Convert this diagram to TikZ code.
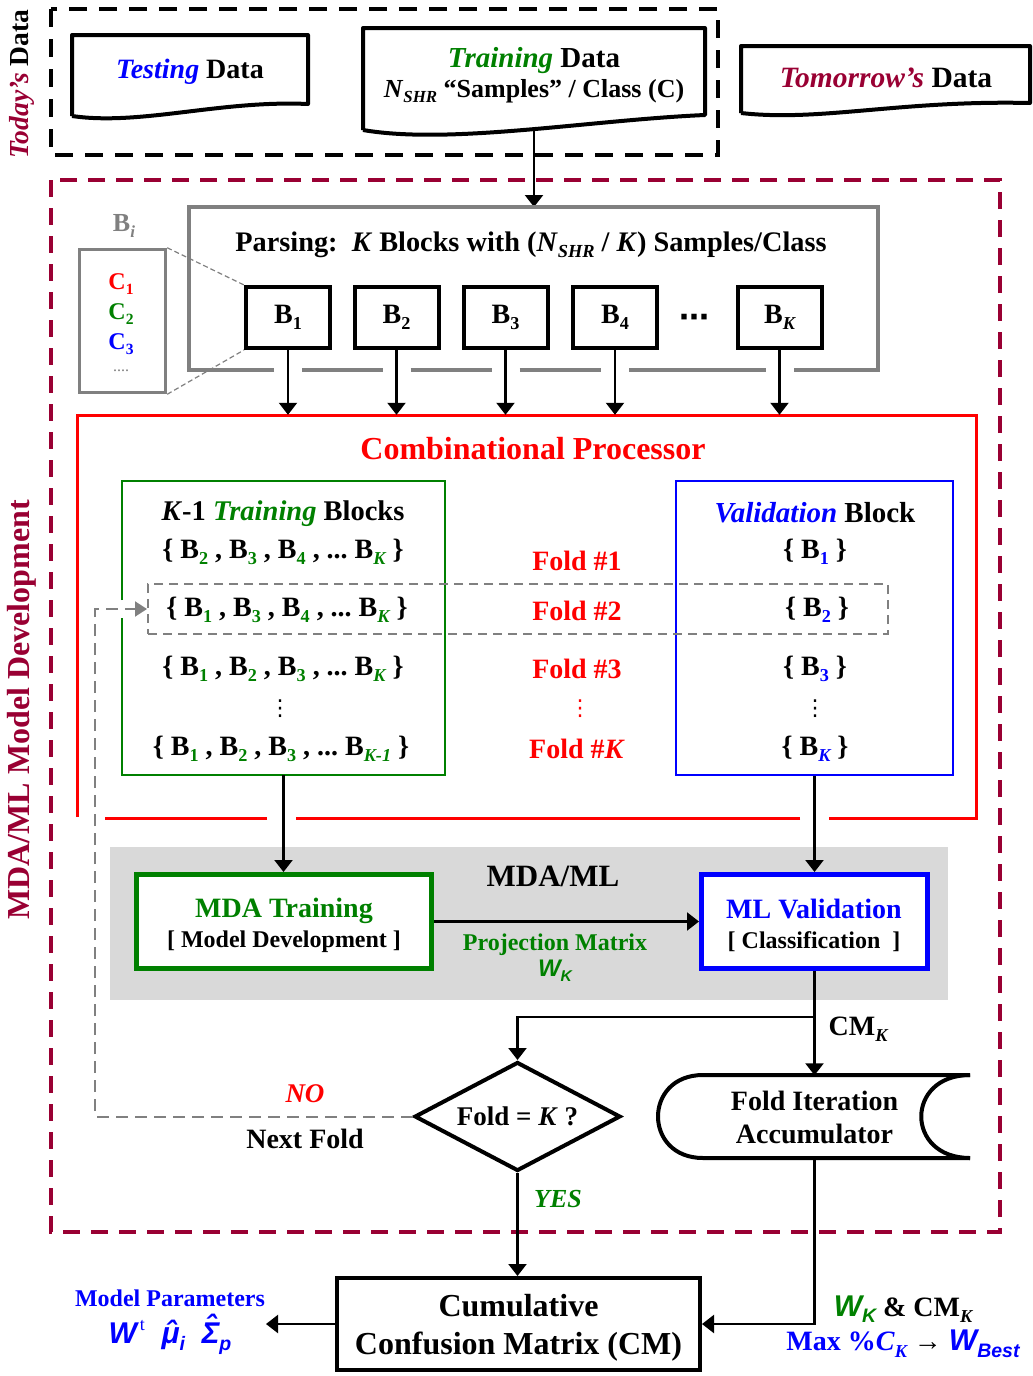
\documentclass[tikz,border=0pt]{standalone}
\usepackage{fontspec}
\usepackage{graphicx}
\setmainfont{Liberation Serif}
\newfontfamily\arialf{Liberation Sans}
\newfontfamily\djv{DejaVu Sans}
\usetikzlibrary{arrows.meta,shapes.geometric}
\definecolor{mroon}{HTML}{990033}
\definecolor{grn}{HTML}{008000}
\definecolor{blu}{HTML}{0000FF}
\definecolor{rdd}{HTML}{FF0000}
\definecolor{gry}{HTML}{808080}
\definecolor{bandc}{HTML}{D9D9D9}
\newcommand\fsz[1]{\fontsize{#1}{#1}\selectfont}
\newcommand\sbx[1]{\raisebox{-0.22em}{\scalebox{0.65}{#1}}}
\newcommand\gB[1]{B\sbx{\color{grn}#1}}
\newcommand\vB[1]{B\sbx{\color{blu}#1}}
\newcommand\hatted[2]{\setbox0\hbox{#1}\hbox{\rlap{\hbox to\wd0{\hss\raisebox{#2}{ˆ}\hss}}\box0}}
\tikzset{
  tx/.style={inner sep=0pt, align=center, font=\fsz{28}\bfseries},
  arr/.style={line width=2.2pt, -{Triangle[length=12pt,width=18pt]}},
  bblk/.style={draw, line width=4pt, minimum width=84pt, minimum height=61pt, inner sep=0pt, font=\fsz{28}\bfseries},
  vdt/.style={inner sep=0pt, font=\djv\fsz{22}},
  gline/.style={gry, line width=4pt},
  rline/.style={rdd, line width=3pt},
}
\begin{document}
\begin{tikzpicture}[x=1pt,y=-1pt]
\useasboundingbox (0,0) rectangle (1033,1376);
% gray band
\fill[bandc] (110,847) rectangle (948,1000);
% outer dashed boxes
\draw[line width=4pt, dash pattern=on 18pt off 12pt] (51,9) rectangle (718,155);
\draw[mroon, line width=3.5pt, dash pattern=on 17pt off 11pt] (51,180) rectangle (1000,1232);
\node[tx, rotate=90, font=\fsz{27.5}\bfseries] (today) at (22,84) {{\color{mroon}\itshape Today’s} Data};
\node[tx, rotate=90, font=\fsz{32}\bfseries, text=mroon] (mdev) at (22,710) {MDA/ML Model Development};
% document shapes
\draw[line width=4pt, line join=round] (72,116) -- (72,35) -- (308,35) -- (308,104) .. controls (220,100) and (140,126) .. (72,116);
\draw[line width=4pt, line join=round] (363,130) -- (363,28) -- (705,28) -- (705,115) .. controls (590,120) and (450,145) .. (363,130);
\draw[line width=4pt, line join=round] (741,113) -- (741,46) -- (1030,46) -- (1030,103) .. controls (900,100) and (820,122) .. (741,113);
\node[tx] (testd) at (190,72) {{\color{blu}\itshape Testing} Data};
\node[tx, font=\fsz{29}\bfseries] (traind) at (534,61) {{\color{grn}\itshape Training} Data};
\node[tx, font=\fsz{26}\bfseries] (trainn) at (534,91) {\textit{N}\sbx{\itshape SHR} “Samples” / Class (C)};
\node[tx, font=\fsz{29.5}\bfseries] (tomd) at (886,78) {{\color{mroon}\itshape Tomorrow’s} Data};
\coordinate (trbot) at (534,131);
\coordinate (ptop) at (534,207);
\draw[arr] (trbot) -- (ptop);
% parsing box
\draw[gline] (274,370) -- (189,370) -- (189,207) -- (878,207) -- (878,370) -- (793.5,370);
\draw[gline] (302,370) -- (382.5,370) (410.5,370) -- (491.5,370) (519.5,370) -- (601,370) (629,370) -- (765.5,370);
\node[tx, font=\fsz{28.3}\bfseries] (parse) at (531,245) {Parsing:\ \ \textit{K} Blocks with (\textit{N}\sbx{\itshape SHR} / \textit{K}) Samples/Class};
\node[bblk] (b1) at (288,317.5) {B\sbx{1}};
\node[bblk] (b2) at (396.5,317.5) {B\sbx{2}};
\node[bblk] (b3) at (505.5,317.5) {B\sbx{3}};
\node[bblk] (b4) at (615,317.5) {B\sbx{4}};
\node[bblk] (bk) at (779.5,317.5) {B\sbx{\itshape K}};
\node[inner sep=0pt, font=\djv\bfseries\fsz{30}] (dts) at (694,321) {⋯};
% Bi box
\node[draw=gry, line width=3.5pt, minimum width=86pt, minimum height=143pt, inner sep=0pt] (bi) at (122.5,321) {};
\node[tx, font=\fsz{26}\bfseries, text=gry] (bil) at (124,226) {B\sbx{\itshape i}};
\node[tx, font=\fsz{24}\bfseries, text=rdd] (c1) at (121,284) {C\sbx{1}};
\node[tx, font=\fsz{24}\bfseries, text=grn] (c2) at (121,314) {C\sbx{2}};
\node[tx, font=\fsz{24}\bfseries, text=blu] (c3) at (121,344) {C\sbx{3}};
\node[tx, font=\fsz{16}, text=gry] (c4) at (121,371) {....};
\draw[gry, line width=1.2pt, dash pattern=on 5pt off 3pt] (bi.north east) -- (b1.north west);
\draw[gry, line width=1.2pt, dash pattern=on 5pt off 3pt] (bi.south east) -- (b1.south west);
% combinational processor
\node[inner sep=0pt, minimum width=899pt, minimum height=403pt] (cp) at (526.5,616.5) {};
\draw[rline] (77,817) -- (77,415) -- (976,415) -- (976,818) -- (829,818);
\draw[rline] (800,818) -- (296,818) (267,818) -- (105,818);
\node[tx, font=\fsz{32}\bfseries, text=rdd] (cptitle) at (533,449) {Combinational Processor};
\foreach \b in {b1,b2,b3,b4,bk} \draw[arr] (\b.south) -- (\b.south |- cp.north);
% training blocks
\node[inner sep=0pt, minimum width=323pt, minimum height=294pt] (gbox) at (283.5,628) {};
\draw[grn, line width=2.5pt] (122,600) -- (122,481) -- (445,481) -- (445,775) -- (122,775) -- (122,618);
\node[tx, font=\fsz{28.5}\bfseries] (gt0) at (283,514) {\textit{K}-1 {\color{grn}\itshape Training} Blocks};
\node[tx] (gt1) at (283,552) {\{\ \gB{2}\ ,\ \gB{3}\ ,\ \gB{4}\ ,\ ...\ \gB{\itshape K}\ \}};
\node[tx] (gt2) at (287,610) {\{\ \gB{1}\ ,\ \gB{3}\ ,\ \gB{4}\ ,\ ...\ \gB{\itshape K}\ \}};
\node[tx] (gt3) at (283,669) {\{\ \gB{1}\ ,\ \gB{2}\ ,\ \gB{3}\ ,\ ...\ \gB{\itshape K}\ \}};
\node[vdt] (gt4) at (280,709) {⋮};
\node[tx] (gt5) at (281,749) {\{\ \gB{1}\ ,\ \gB{2}\ ,\ \gB{3}\ ,\ ...\ \gB{\itshape K-1}\ \}};
% folds
\node[tx, text=rdd] (fl1) at (577,561) {Fold \#1};
\node[tx, text=rdd] (fl2) at (577,611) {Fold \#2};
\node[tx, text=rdd] (fl3) at (577,669) {Fold \#3};
\node[vdt, text=rdd] (fl4) at (580,709) {⋮};
\node[tx, text=rdd] (fl5) at (577,749) {Fold \#\textit{K}};
% validation block
\node[draw=blu, line width=2.5pt, minimum width=277pt, minimum height=294pt, inner sep=0pt] (vbox) at (814.5,628) {};
\node[tx, font=\fsz{29}\bfseries] (vt0) at (815,513) {{\color{blu}\itshape Validation} Block};
\node[tx] (vt1) at (815,552) {\{\ \vB{1}\ \}};
\node[tx] (vt2) at (817,610) {\{\ \vB{2}\ \}};
\node[tx] (vt3) at (815,669) {\{\ \vB{3}\ \}};
\node[vdt] (vt4) at (815,709) {⋮};
\node[tx] (vt5) at (815,749) {\{\ \vB{\itshape K}\ \}};
% fold 2 highlight
\node[draw=gry, line width=2pt, dash pattern=on 9pt off 6pt, minimum width=740pt, minimum height=50pt, inner sep=0pt] (f2) at (518,609) {};
% MDA/ML
\node[tx, font=\fsz{31}\bfseries] (mdaml) at (553,876) {MDA/ML};
\node[draw=grn, line width=5pt, fill=white, minimum width=295pt, minimum height=94pt, inner sep=0pt] (mda) at (284,921.5) {};
\node[tx, font=\fsz{28}\bfseries, text=grn] (mdat1) at (284,911) {MDA Training};
\node[tx, font=\fsz{24}\bfseries] (mdat2) at (284,942) {[\ Model Development\ ]};
\node[draw=blu, line width=5pt, fill=white, minimum width=226pt, minimum height=94pt, inner sep=0pt] (mlv) at (814.5,921.5) {};
\node[tx, font=\fsz{28}\bfseries, text=blu] (mlvt1) at (814,909) {ML Validation};
\node[tx, font=\fsz{24}\bfseries] (mlvt2) at (814,942) {[\ Classification\ \ ]};
\draw[arr] (gbox.south) -- (gbox.south |- mda.north);
\draw[arr] (vbox.south) -- (vbox.south |- mlv.north);
\draw[arr] (mda.east) -- (mlv.west);
\node[tx, font=\fsz{24}\bfseries, text=grn] (pm) at (555,945) {Projection Matrix};
\node[tx, font=\arialf\fsz{24}\bfseries\itshape, text=grn] (wk) at (555,971) {W\sbx{K}};
% accumulator
\node[tx, minimum height=83pt, font=\fontsize{28}{33}\selectfont\bfseries] (acc) at (814.5,1117) {Fold Iteration\\Accumulator};
\draw[line width=4pt, line join=round] (970,1075) -- (703,1075) .. controls (643,1075) and (643,1158) .. (703,1158) -- (970,1158);
\draw[line width=4pt] (970,1158) .. controls (905,1158) and (905,1075) .. (970,1075);
\draw[arr] (mlv.south) -- (acc.north);
\node[tx] (cmk) at (858,1029) {CM\sbx{\itshape K}};
% decision
\node[draw, diamond, aspect=1.85, line width=4pt, inner sep=0pt, minimum width=206pt, minimum height=109pt, font=\fsz{27}\bfseries] (dia) at (517.5,1116.5) {Fold = \textit{K} ?};
\coordinate (br) at (814.5,1017);
\draw[line width=2.2pt, -{Triangle[length=12pt,width=18pt]}] (br) -| (dia.north);
\coordinate (fbc) at (95,609);
\draw[gry, line width=2pt, dash pattern=on 12pt off 7pt, -{Triangle[length=12pt,width=15pt]}] (dia.west) -| (fbc) -- (f2.west);
\node[tx, text=rdd, font=\fsz{27}\bfseries\itshape] (no) at (305,1094) {NO};
\node[tx] (nf) at (305,1139) {Next Fold};
\node[tx, text=grn, font=\fsz{26}\bfseries\itshape] (yes) at (558,1199) {YES};
% cumulative CM
\node[draw, line width=4pt, minimum width=363pt, minimum height=92pt, inner sep=0pt] (cm) at (518.5,1324) {};
\node[tx, font=\fontsize{32}{38}\selectfont\bfseries] (cmt) at (518.5,1328) {Cumulative\\Confusion Matrix (CM)};
\draw[arr] (dia.south) -- (dia.south |- cm.north);
\draw[arr] (acc.south) |- (cm.east);
\coordinate (mp) at (266,1324);
\draw[arr] (cm.west) -- (mp);
\node[tx, font=\fsz{24}\bfseries, text=blu] (mpt) at (170,1298) {Model Parameters};
\node[tx, font=\arialf\fsz{30}\bfseries\itshape, text=blu] (mpv) at (170,1334) {W\kern3pt\raisebox{0.45em}{\rmfamily\upshape\mdseries\fsz{18}t}\ \ \hatted{μ}{0.05em}\sbx{i}\ \ \hatted{Σ}{0.25em}\sbx{p}};
\node[tx] (wcm) at (903,1309) {{\arialf\itshape\fsz{30}\color{grn}W\sbx{K}} \& CM\sbx{\itshape K}};
\node[tx, text=blu] (maxc) at (903,1344) {Max \%\textit{C}\sbx{\itshape K} {\color{black}→} {\arialf\itshape\fsz{30}W\sbx{Best}}};
\end{tikzpicture}
\end{document}
